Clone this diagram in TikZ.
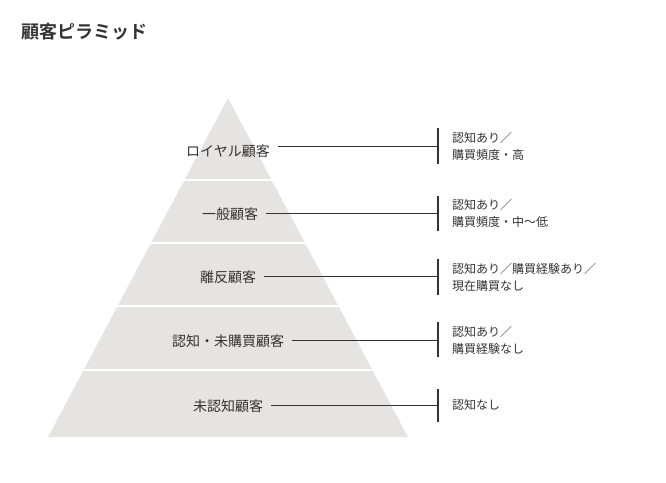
\documentclass[tikz,border=0pt]{standalone}
\usepackage{fontspec}
\newfontfamily\jp{Noto Sans CJK JP}
\newfontfamily\jpb{Noto Sans CJK JP Bold}
\definecolor{pyr}{HTML}{E6E4E3}
\definecolor{ink}{HTML}{333333}
\begin{document}
\begin{tikzpicture}[x=1pt,y=-1pt,
  lvl/.style={font=\jp\fontsize{14}{16}\selectfont,text=ink,inner sep=2pt},
  desc/.style={font=\jp\fontsize{12}{17}\selectfont,text=ink,anchor=west,align=left,inner sep=0pt},
  conn/.style={draw=ink,line width=0.8pt},
  bar/.style={draw=ink,line width=2.2pt}]
\useasboundingbox (0,0) rectangle (666,482);
\node[anchor=west,font=\jpb\fontsize{18}{20}\selectfont,text=ink] (title) at (18,32) {顧客ピラミッド};
\fill[pyr] (228,98) -- (408,437) -- (48,437) -- cycle;
\foreach \y in {180,243,306,370}{\draw[white,line width=2pt] (40,\y) -- (420,\y);}
% levels
\node[lvl] (l1) at (228,151) {ロイヤル顧客};
\node[lvl] (l2) at (230,214) {一般顧客};
\node[lvl] (l3) at (228,277) {離反顧客};
\node[lvl] (l4) at (228,341) {認知・未購買顧客};
\node[lvl] (l5) at (228,406) {未認知顧客};
% bars
\coordinate (b1) at (438,146); \draw[bar] (438,128) -- (438,164);
\coordinate (b2) at (438,213); \draw[bar] (438,196) -- (438,231);
\coordinate (b3) at (438,276); \draw[bar] (438,259) -- (438,295);
\coordinate (b4) at (438,340); \draw[bar] (438,322) -- (438,357);
\coordinate (b5) at (438,405); \draw[bar] (438,389) -- (438,422);
\foreach \i in {1,...,5}{\draw[conn] (l\i.east|-b\i) ++(6,0) -- (b\i);}
\node[desc] (d1) at (452,146) {認知あり／\\購買頻度・高};
\node[desc] (d2) at (452,213) {認知あり／\\購買頻度・中〜低};
\node[desc] (d3) at (452,277) {認知あり／購買経験あり／\\現在購買なし};
\node[desc] (d4) at (452,340) {認知あり／\\購買経験なし};
\node[desc] (d5) at (452,405) {認知なし};
\end{tikzpicture}
\end{document}
